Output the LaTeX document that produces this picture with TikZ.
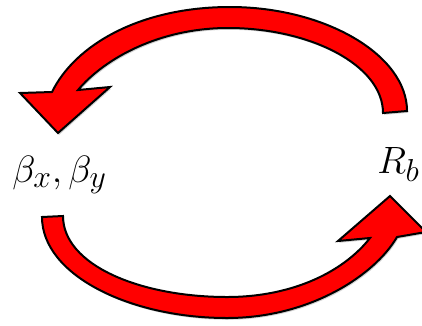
\documentclass[tikz,border=0pt]{standalone}
\usetikzlibrary{shadows}
\begin{document}
\begin{tikzpicture}[x=1pt,y=-1pt,
  bigarrow/.style={fill=red,draw=black,line width=2pt,line join=miter,
    drop shadow={shadow xshift=1.2pt,shadow yshift=-1.8pt,opacity=0.18,fill=black}},
  lbl/.style={inner sep=0pt,scale=1.53,font=\fontsize{24.88}{30}\selectfont}]
\useasboundingbox (0,0) rectangle (422,325);
\clip (0,0) rectangle (422,325);
% top arrow (R_b -> beta)
\path[bigarrow] (407,111) .. controls (407,55) and (325,7) .. (230,7)
  .. controls (140,7) and (75,45) .. (52,92)
  -- (20,93) -- (58,133) -- (110,87) -- (78,90)
  .. controls (105,58) and (160,28) .. (228,28)
  .. controls (310,28) and (383,65) .. (383,113) -- cycle;
% bottom arrow (beta -> R_b)
\path[bigarrow] (42,217) .. controls (42,275) and (130,318) .. (227,318)
  .. controls (310,318) and (375,275) .. (397,237)
  -- (426,232) -- (390,196) -- (338,241) -- (370,238)
  .. controls (345,270) and (295,297) .. (227,297)
  .. controls (140,297) and (63,265) .. (63,216) -- cycle;
\node[lbl,anchor=base west] (beta) at (12,182) {$\beta_x,\beta_y$};
\node[lbl,anchor=base west] (rb) at (377,173) {$R_b$};
\end{tikzpicture}
\end{document}
